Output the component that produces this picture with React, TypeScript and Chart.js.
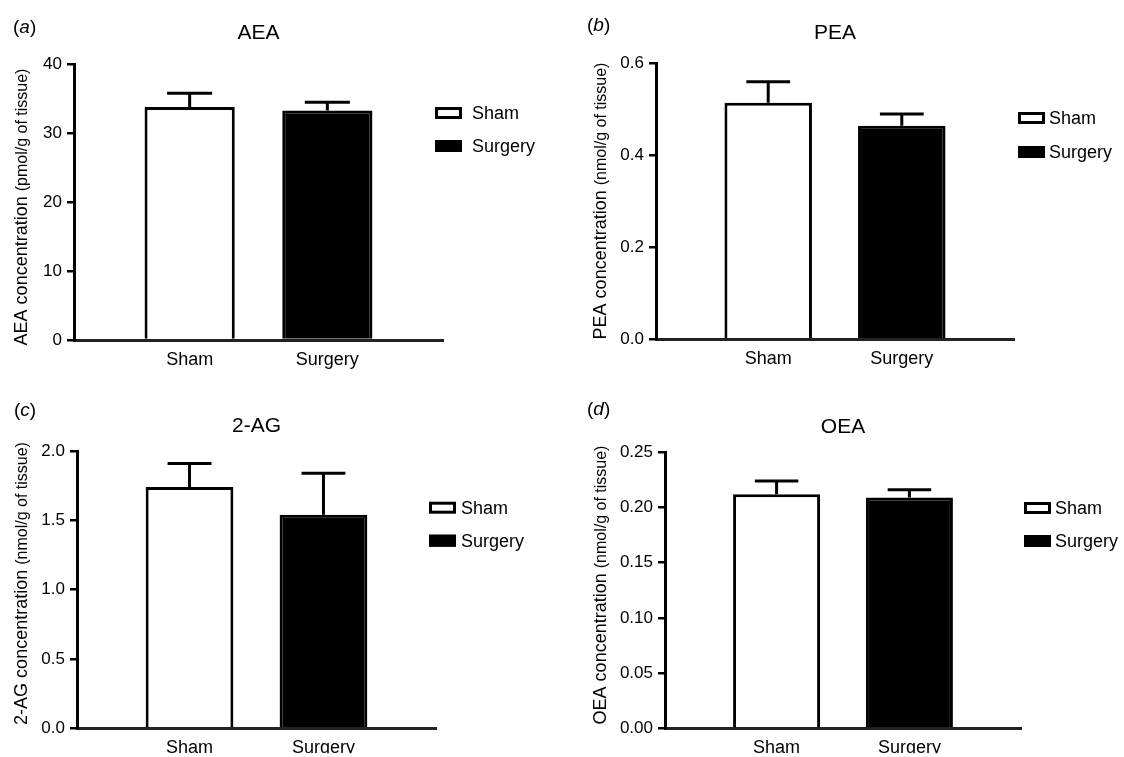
import React, { useEffect, useRef } from "react";
import { Chart, registerables } from "chart.js";

Chart.register(...registerables);

const FONT = '"Liberation Sans", Arial, Helvetica, sans-serif';

// ---------- data ----------
const groups = ["Sham", "Surgery"];
const groupFill = ["#ffffff", "#000000"];

const aeaMeans = [33.8, 33.3];
const aeaErrors = [2.0, 1.2];
const aeaTicks = [0, 10, 20, 30, 40];
const aeaTickLabels = ["0", "10", "20", "30", "40"];

const peaMeans = [0.514, 0.464];
const peaErrors = [0.046, 0.026];
const peaTicks = [0, 0.2, 0.4, 0.6];
const peaTickLabels = ["0.0", "0.2", "0.4", "0.6"];

const agMeans = [1.74, 1.54];
const agErrors = [0.17, 0.3];
const agTicks = [0, 0.5, 1.0, 1.5, 2.0];
const agTickLabels = ["0.0", "0.5", "1.0", "1.5", "2.0"];

const oeaMeans = [0.212, 0.209];
const oeaErrors = [0.012, 0.007];
const oeaTicks = [0, 0.05, 0.1, 0.15, 0.2, 0.25];
const oeaTickLabels = ["0.00", "0.05", "0.10", "0.15", "0.20", "0.25"];

// ---------- panel layout ----------
const panels = [
  {
    key: "a", letter: "a", title: "AEA", yMain: "AEA concentration", yUnit: "(pmol/g of tissue)",
    means: aeaMeans, errors: aeaErrors, ticks: aeaTicks, tickLabels: aeaTickLabels,
    left: 0, top: 0, w: 560, h: 380,
    pad: { left: 24, right: 117, top: 0, bottom: 10 }, titlePad: { top: 20.4, bottom: 18.7 }, xH: 30,
    letterPos: [13, 28], yTitle: [20, 207], legend: { boxX: 435, rows: [113, 146], textX: 472 },
  },
  {
    key: "b", letter: "b", title: "PEA", yMain: "PEA concentration", yUnit: "(nmol/g of tissue)",
    means: peaMeans, errors: peaErrors, ticks: peaTicks, tickLabels: peaTickLabels,
    left: 560, top: 0, w: 564, h: 380,
    pad: { left: 46, right: 110, top: 0, bottom: 10.7 }, titlePad: { top: 20.4, bottom: 17.7 }, xH: 30,
    letterPos: [27, 26], yTitle: [39, 201], legend: { boxX: 458, rows: [118, 152], textX: 489 },
  },
  {
    key: "c", letter: "c", title: "2-AG", yMain: "2-AG concentration", yUnit: "(nmol/g of tissue)",
    means: agMeans, errors: agErrors, ticks: agTicks, tickLabels: agTickLabels,
    left: 0, top: 380, w: 560, h: 377,
    pad: { left: 27, right: 124, top: 0, bottom: 3.7 }, titlePad: { top: 34.1, bottom: 11.7 }, xH: 25,
    letterPos: [14, 31], yTitle: [20, 203.5], legend: { boxX: 429, rows: [127.7, 160.7], textX: 461 },
  },
  {
    key: "d", letter: "d", title: "OEA", yMain: "OEA concentration", yUnit: "(nmol/g of tissue)",
    means: oeaMeans, errors: oeaErrors, ticks: oeaTicks, tickLabels: oeaTickLabels,
    left: 560, top: 380, w: 564, h: 377,
    pad: { left: 55, right: 103, top: 0, bottom: 3.7 }, titlePad: { top: 34.4, bottom: 12.7 }, xH: 25,
    letterPos: [27, 30], yTitle: [39, 205], legend: { boxX: 464, rows: [128, 161], textX: 495 },
  },
];

// ---------- plugin: error bars, legend, panel letter, y title ----------
const decorPlugin = {
  id: "decor",
  afterDatasetsDraw(chart: any, _args: any, opts: any) {
    const ctx = chart.ctx;
    const yScale = chart.scales.y;
    ctx.save();
    ctx.strokeStyle = "#000";
    ctx.lineWidth = 3;
    ctx.lineCap = "butt";
    chart.data.datasets.forEach((ds: any, i: number) => {
      const meta = chart.getDatasetMeta(i);
      meta.data.forEach((bar: any, j: number) => {
        const p = ds.data[j];
        const err = ds.errors[j];
        const top = yScale.getPixelForValue(p.y + err);
        const w = bar.width;
        ctx.beginPath();
        ctx.moveTo(bar.x, bar.y);
        ctx.lineTo(bar.x, top);
        ctx.moveTo(bar.x - w / 4, top);
        ctx.lineTo(bar.x + w / 4, top);
        ctx.stroke();
      });
    });
    ctx.restore();
  },
  afterDraw(chart: any, _args: any, opts: any) {
    const ctx = chart.ctx;
    ctx.save();
    ctx.fillStyle = "#000";

    // panel letter "(a)"
    ctx.textBaseline = "middle";
    ctx.textAlign = "left";
    let x = opts.letterPos[0];
    const ly = opts.letterPos[1];
    ctx.font = `19px ${FONT}`;
    ctx.fillText("(", x, ly);
    x += ctx.measureText("(").width;
    ctx.font = `italic 19px ${FONT}`;
    ctx.fillText(opts.letter, x, ly);
    x += ctx.measureText(opts.letter).width;
    ctx.font = `19px ${FONT}`;
    ctx.fillText(")", x, ly);

    // legend
    const lg = opts.legend;
    chart.data.datasets.forEach((ds: any, i: number) => {
      const cy = lg.rows[i];
      const bw = 27, bh = 12;
      ctx.fillStyle = ds.backgroundColor;
      ctx.fillRect(lg.boxX, cy - bh / 2, bw, bh);
      ctx.strokeStyle = ds.borderColor;
      ctx.lineWidth = 3;
      ctx.strokeRect(lg.boxX + 1.5, cy - bh / 2 + 1.5, bw - 3, bh - 3);
      ctx.fillStyle = "#000";
      ctx.font = `18px ${FONT}`;
      ctx.textBaseline = "middle";
      ctx.fillText(ds.label, lg.textX, cy + 1);
    });

    // rotated y-axis title with smaller unit part
    const [tx, tcy] = opts.yTitle;
    ctx.translate(tx + 6.5, tcy);
    ctx.rotate(-Math.PI / 2);
    ctx.textBaseline = "alphabetic";
    ctx.textAlign = "left";
    ctx.font = `18px ${FONT}`;
    const wMain = ctx.measureText(opts.yMain + " ").width;
    ctx.font = `16px ${FONT}`;
    const wUnit = ctx.measureText(opts.yUnit).width;
    const start = -(wMain + wUnit) / 2;
    ctx.fillStyle = "#000";
    ctx.font = `18px ${FONT}`;
    ctx.fillText(opts.yMain + " ", start, 0);
    ctx.font = `16px ${FONT}`;
    ctx.fillText(opts.yUnit, start + wMain, 0);
    ctx.restore();
  },
};

function Panel({ cfg }: { cfg: any }) {
  const ref = useRef<HTMLCanvasElement | null>(null);
  useEffect(() => {
    if (!ref.current) return;
    const datasets = groups.map((g, i) => ({
      label: g,
      data: [{ x: i + 1, y: cfg.means[i] }],
      errors: [cfg.errors[i]],
      backgroundColor: groupFill[i],
      borderColor: "#000000",
      borderWidth: 3,
      grouped: false,
      categoryPercentage: 1,
      barPercentage: 0.655,
    }));
    const chart = new Chart(ref.current, {
      type: "bar",
      data: { datasets } as any,
      plugins: [decorPlugin as any],
      options: {
        responsive: false,
        devicePixelRatio: 1,
        animation: false,
        events: [],
        layout: { padding: cfg.pad },
        scales: {
          x: {
            type: "linear",
            offset: false,
            min: 0.16,
            max: 2.84,
            bounds: "data",
            afterBuildTicks: (s: any) => {
              s.ticks = groups.map((_, i) => ({ value: i + 1 }));
            },
            afterFit: (s: any) => {
              s.height = cfg.xH;
            },
            ticks: {
              callback: (v: any) => groups[Math.round(Number(v)) - 1] ?? "",
              font: { family: FONT, size: 18 },
              color: "#000",
              padding: 9,
              maxRotation: 0,
              autoSkip: false,
            },
            grid: { display: false, drawTicks: false, offset: false },
            border: { display: true, color: "#222", width: 3 },
          },
          y: {
            type: "linear",
            min: cfg.ticks[0],
            max: cfg.ticks[cfg.ticks.length - 1],
            afterBuildTicks: (s: any) => {
              s.ticks = cfg.ticks.map((v: number) => ({ value: v }));
            },
            afterFit: (s: any) => {
              s.width = 50;
            },
            ticks: {
              callback: (_v: any, idx: number) => cfg.tickLabels[idx],
              font: { family: FONT, size: 17 },
              color: "#000",
              padding: 5,
              autoSkip: false,
            },
            grid: {
              display: true,
              drawOnChartArea: false,
              drawTicks: true,
              tickLength: 7,
              color: "#000",
              lineWidth: 2.5,
            },
            border: { display: true, color: "#000", width: 3 },
          },
        },
        plugins: {
          legend: { display: false },
          tooltip: { enabled: false },
          title: {
            display: true,
            text: cfg.title,
            fullSize: false,
            color: "#000",
            font: { family: FONT, size: 21, weight: "normal" },
            padding: cfg.titlePad,
          },
          decor: {
            letter: cfg.letter,
            letterPos: cfg.letterPos,
            yTitle: cfg.yTitle,
            yMain: cfg.yMain,
            yUnit: cfg.yUnit,
            legend: cfg.legend,
          },
        } as any,
      } as any,
    });
    return () => chart.destroy();
  }, []);
  return (
    <div style={{ position: "absolute", left: cfg.left, top: cfg.top, width: cfg.w, height: cfg.h }}>
      <canvas ref={ref} width={cfg.w} height={cfg.h} style={{ display: "block", width: cfg.w, height: cfg.h }} />
    </div>
  );
}

export default function App() {
  return (
    <div style={{ position: "absolute", left: 0, top: 0, width: 1124, height: 757, background: "#fff", overflow: "hidden" }}>
      {panels.map((p) => (
        <Panel key={p.key} cfg={p} />
      ))}
    </div>
  );
}
